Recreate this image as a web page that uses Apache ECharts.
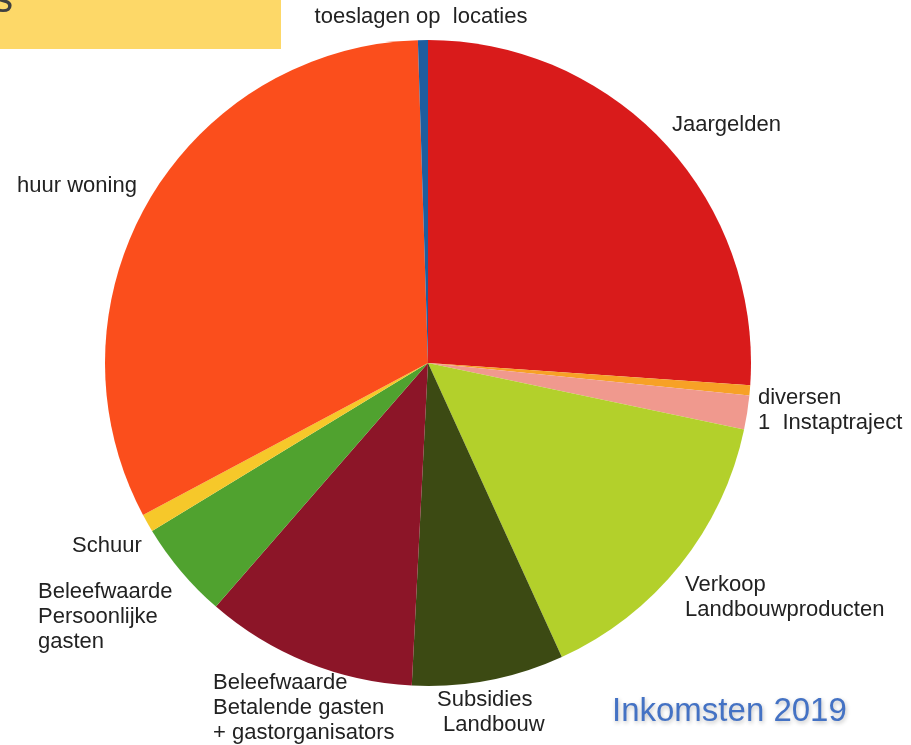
<!DOCTYPE html>
<html>
<head>
<meta charset="utf-8">
<script src="https://cdn.jsdelivr.net/npm/echarts@6/dist/echarts.min.js"></script>
<style>
html,body{margin:0;padding:0;background:#fff;}
#chart{width:911px;height:745px;}
</style>
</head>
<body>
<div id="chart"></div>
<script>
// Data (percent shares; clockwise from 12 o'clock)
const categories = [
  'Jaargelden',
  'diversen',
  '1  Instaptraject',
  'Verkoop\nLandbouwproducten',
  'Subsidies\n Landbouw',
  'Beleefwaarde\nBetalende gasten\n+ gastorganisators',
  'Beleefwaarde\nPersoonlijke\ngasten',
  'Schuur',
  'huur woning',
  'toeslagen op  locaties'
];
const values = [26.1, 0.5, 1.7, 14.9, 7.6, 10.6, 4.9, 0.9, 32.3, 0.5];

// Styles
const colors = ['#d91b1b', '#f7a126', '#f0998e', '#b3d02b', '#3c4a13', '#8c1528', '#50a22f', '#f6c82a', '#fb4e1c', '#1e5d9f'];
const labelPos = [
  {x: 672, y: 112, align: 'left'},
  {x: 758, y: 385, align: 'left'},
  {x: 758, y: 410, align: 'left'},
  {x: 685, y: 572, align: 'left'},
  {x: 437, y: 687, align: 'left'},
  {x: 213, y: 670, align: 'left'},
  {x: 38, y: 579, align: 'left'},
  {x: 72, y: 533, align: 'left'},
  {x: 17, y: 173, align: 'left'},
  {x: 421, y: 4, align: 'center'}
];

const chart = echarts.init(document.getElementById('chart'), null, {renderer: 'canvas'});
chart.setOption({
  backgroundColor: '#ffffff',
  animation: false,
  graphic: [
    {type: 'rect', left: 0, top: 0, shape: {x: 0, y: 0, width: 281, height: 49}, style: {fill: '#fdd868'}, z: 10},
    {type: 'text', x: 13, y: 21, style: {text: 's', font: '40px "Liberation Sans", Arial, sans-serif', fill: '#404040', textAlign: 'right', textVerticalAlign: 'bottom'}, z: 11},
    {type: 'text', x: 612, y: 712, style: {text: 'Inkomsten 2019', font: '33px "Liberation Sans", Arial, sans-serif', fill: '#4472c4', textAlign: 'left', textVerticalAlign: 'middle', textShadowColor: 'rgba(0,0,0,0.25)', textShadowBlur: 4, textShadowOffsetX: 1, textShadowOffsetY: 2}, z: 11}
  ],
  series: [{
    type: 'pie',
    center: [428, 363],
    radius: [0, 323],
    startAngle: 90,
    clockwise: true,
    avoidLabelOverlap: false,
    data: categories.map((c, i) => ({name: c, value: values[i], itemStyle: {color: colors[i]}})),
    label: {
      show: true,
      position: 'outside',
      formatter: '{b}',
      fontFamily: '"Liberation Sans", Arial, sans-serif',
      fontSize: 22,
      lineHeight: 25,
      color: '#222222'
    },
    labelLine: {show: false},
    labelLayout: function (params) {
      const p = labelPos[params.dataIndex];
      return {x: p.x, y: p.y, align: p.align, verticalAlign: 'top', hideOverlap: false, moveOverlap: null};
    },
    emphasis: {disabled: true}
  }]
});
</script>
</body>
</html>
